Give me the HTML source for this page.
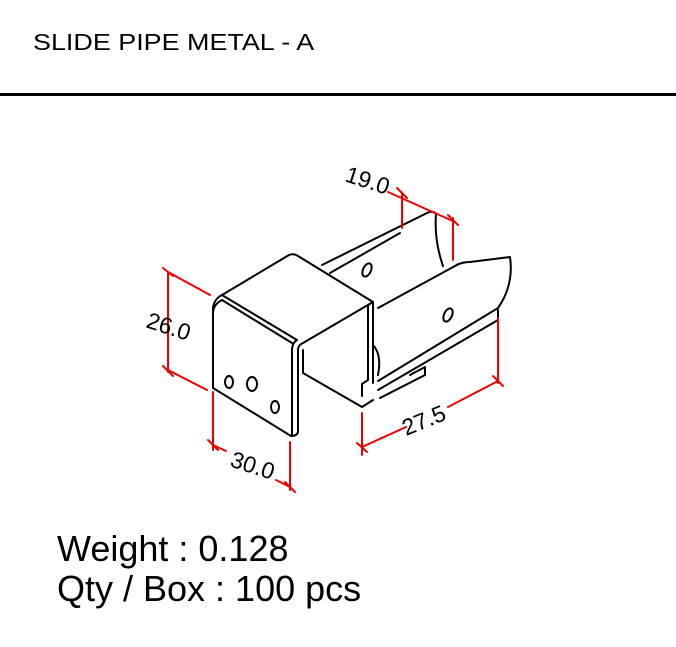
<!DOCTYPE html>
<html><head><style>
body{margin:0;width:676px;height:647px;background:#fff;overflow:hidden;position:relative;font-family:"Liberation Sans",Arial,sans-serif}
.t{position:absolute;left:33px;top:29px;font-size:23px;color:#000;white-space:nowrap;transform:scaleX(1.17);transform-origin:0 0}
.hr{position:absolute;left:0;top:93px;width:676px;height:3px;background:#000}
.w{position:absolute;left:57px;font-size:36px;color:#000;white-space:nowrap}
</style></head><body>
<div class="t">SLIDE PIPE METAL - A</div>
<div class="hr"></div>
<svg width="676" height="647" style="position:absolute;left:0;top:0" fill="none" stroke="#000" stroke-width="2" stroke-linejoin="round" stroke-linecap="round">
<path d="M322,265 L427,213 Q433,210 436,214 Q434,240 443,266"/>
<path d="M330,273 L400,233"/>
<path d="M378,308 L455,266 Q461,262 470,262 L510,257 Q514,285 498,308 L378,381"/>
<path d="M498,310 L498,320 L378,390"/>
<path d="M410,375 L425,367 L425,375 L380,398"/>
<ellipse cx="367" cy="270" rx="4" ry="7" transform="rotate(25 367 270)"/>
<ellipse cx="448" cy="315" rx="4" ry="7" transform="rotate(25 448 315)"/>
<path d="M213,308 Q214,299 222,295 L289,255 Q294,253 298,256 L373,302 L373,383"/>
<path d="M368,306 L368,380 L362,384 L362,396"/>
<path d="M213,308 L213,388 L291,436 Q297,436 298,432 L298,350 Q298,345 303,343 L373,302"/>
<path d="M213,312 Q214,304 222,300 L292,343"/>
<path d="M222,295 L297,340 Q292,343 292,350 L292,436"/>
<path d="M303,350 L303,373 L362,407 L373,400"/>
<path d="M373,345 Q382,355 378,375"/>
<ellipse cx="229" cy="382" rx="4" ry="6"/>
<ellipse cx="252" cy="384" rx="5" ry="7"/>
<ellipse cx="275" cy="407" rx="4" ry="6"/>
<g stroke="#e00" stroke-width="2">
<path d="M168,272 L168,372 M168,272 L210,295 M168,370 L207,390"/>
<path d="M163,268 L173,276 M163,366 L173,376"/>
<path d="M213,392 L213,450 M290,442 L290,490 M213,445 L226,451 M276,480 L290,487"/>
<path d="M208,440 L218,450 M285,482 L295,492"/>
<path d="M402,193 L402,228 M453,218 L453,260 M388,192 L455,222"/>
<path d="M397,188 L407,198 M448,215 L458,225"/>
<path d="M362,413 L362,455 M498,318 L498,383 M362,447 L406,427 M448,407 L498,381"/>
<path d="M357,443 L367,452 M493,376 L503,386"/>
</g>
<g fill="#000" stroke="none" font-family="Liberation Sans,Arial,sans-serif" font-size="23">
<text x="145" y="327" transform="rotate(18 145 327)">26.0</text>
<text x="229" y="466" transform="rotate(18 229 466)">30.0</text>
<text x="344" y="181" transform="rotate(18 344 181)">19.0</text>
<text x="406" y="436" transform="rotate(-22 406 436)">27.5</text>
</g>
</svg>
<div class="w" style="top:528px">Weight : 0.128</div>
<div class="w" style="top:568px">Qty / Box : 100 pcs</div>
</body></html>
